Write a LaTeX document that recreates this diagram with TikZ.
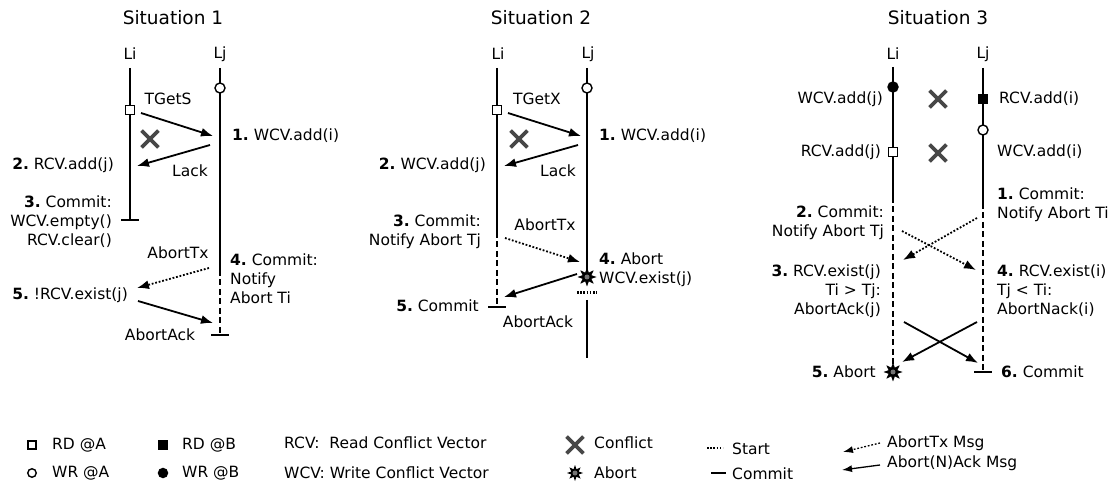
\documentclass[tikz,border=0pt]{standalone}
\usepackage{fontspec}
\setmainfont{DejaVu Sans}
\usetikzlibrary{arrows.meta, shapes.geometric, shapes.misc}
\newcommand{\stepnum}[1]{\textbf{#1.}~}
\tikzset{
    life/.style={line width=1.8pt},
    lifedash/.style={life, dash pattern=on 6pt off 3.5pt},
    msg/.style={line width=1.8pt, -{Latex[length=12pt,width=9pt]}},
    abortmsg/.style={msg, dash pattern=on 1.8pt off 1.8pt},
    tick/.style={line width=1.8pt},
    startmark/.style={line width=3pt, dash pattern=on 1.6pt off 1.6pt},
    rdA/.style={draw, fill=white, line width=1.4pt, minimum size=8.5pt, inner sep=0pt},
    rdB/.style={rdA, fill=black},
    wrA/.style={circle, draw, fill=white, line width=1.4pt, minimum size=10pt, inner sep=0pt},
    wrB/.style={wrA, fill=black},
    conflict/.style={cross out, draw=black!72, line width=3.8pt, minimum size=13pt, inner sep=0pt},
    abortmark/.style={star, star points=8, star point ratio=2, fill=black,
        minimum size=19pt, inner sep=0pt,
        path picture={\fill[black!55] (path picture bounding box.center) circle (2.5pt);}},
    lbl/.style={font=\fontsize{15.5}{19}\selectfont, inner sep=1pt},
    title/.style={font=\fontsize{18.5}{22}\selectfont},
}

\begin{document}
\begin{tikzpicture}[x=1pt, y=-1pt]

\useasboundingbox (0,0) rectangle (1120,494);

% Situacion 1
\node[title] (t1) at (173,18) {Situation 1};
\node[lbl] (li1) at (130,54) {Li};
\node[lbl] (lj1) at (220,54) {Lj};

\coordinate (li1top) at (130,68);
\coordinate (li1end) at (130,220);
\coordinate (lj1top) at (220,68);
\coordinate (lj1dash) at (220,270);
\coordinate (lj1end) at (220,335);

\draw[life] (li1top) -- (li1end);
\draw[tick] ([xshift=-9pt]li1end) -- ([xshift=9pt]li1end);
\draw[life] (lj1top) -- (lj1dash);
\draw[lifedash] (lj1dash) -- (lj1end);
\draw[tick] ([xshift=-9pt]lj1end) -- ([xshift=9pt]lj1end);

\node[rdA] (rd1) at (130,110) {};
\node[wrA] (wr1) at (220,88) {};
\node[conflict] (x1) at (150,139) {};

\coordinate (g1s) at (141,113);
\coordinate (g1e) at (213,136);
\coordinate (l1s) at (210,145);
\coordinate (l1e) at (137,166);
\coordinate (x1s) at (209,268);
\coordinate (x1e) at (137,288);
\coordinate (k1s) at (138,301);
\coordinate (k1e) at (213,323);

\draw[msg] (g1s) -- (g1e);
\draw[msg] (l1s) -- (l1e);
\draw[abortmsg] (x1s) -- (x1e);
\draw[msg] (k1s) -- (k1e);

\node[lbl] (tgets) at (168,99) {TGetS};
\node[lbl] (lack1) at (190,171) {Lack};
\node[lbl] (abtx1) at (178,253) {AbortTx};
\node[lbl] (abak1) at (160,335) {AbortAck};
\node[lbl, anchor=west] (a11) at (231,136) {\stepnum{1}WCV.add(i)};
\node[lbl, anchor=east] (a12) at (115,165) {\stepnum{2}RCV.add(j)};
\node[lbl, anchor=east, align=right] (a13) at (113,222) {\stepnum{3}Commit:\\WCV.empty()\\RCV.clear()};
\node[lbl, anchor=west, align=left] (a14) at (229,279) {\stepnum{4}Commit:\\Notify\\Abort Ti};
\node[lbl, anchor=east] (a15) at (129,295) {\stepnum{5}!RCV.exist(j)};

% Situacion 2
\node[title] (t2) at (541,18) {Situation 2};
\node[lbl] (li2) at (498,54) {Li};
\node[lbl] (lj2) at (588,54) {Lj};

\coordinate (li2top) at (497,68);
\coordinate (li2dash) at (497,232);
\coordinate (li2end) at (497,307);
\coordinate (lj2top) at (587,68);
\coordinate (lj2abort) at (587,277);
\coordinate (lj2start) at (587,293);
\coordinate (lj2new) at (587,300);
\coordinate (lj2end) at (587,358);

\draw[life] (li2top) -- (li2dash);
\draw[lifedash] (li2dash) -- (li2end);
\draw[tick] ([xshift=-9pt]li2end) -- ([xshift=9pt]li2end);
\draw[life] (lj2top) -- (lj2abort);
\draw[startmark] ([xshift=-10pt]lj2start) -- ([xshift=10pt]lj2start);
\draw[life] (lj2new) -- (lj2end);

\node[rdA] (rd2) at (497,110) {};
\node[wrA] (wr2) at (587,88) {};
\node[conflict] (x2) at (519,139) {};
\node[abortmark] (ab2) at (lj2abort) {};

\coordinate (g2s) at (508,113);
\coordinate (g2e) at (581,136);
\coordinate (l2s) at (578,145);
\coordinate (l2e) at (504,166);
\coordinate (x2s) at (505,238);
\coordinate (x2e) at (580,262);
\coordinate (k2s) at (577,274);
\coordinate (k2e) at (504,297);

\draw[msg] (g2s) -- (g2e);
\draw[msg] (l2s) -- (l2e);
\draw[abortmsg] (x2s) -- (x2e);
\draw[msg] (k2s) -- (k2e);

\node[lbl] (tgetx) at (537,99) {TGetX};
\node[lbl] (lack2) at (558,171) {Lack};
\node[lbl] (abtx2) at (545,225) {AbortTx};
\node[lbl] (abak2) at (538,322) {AbortAck};
\node[lbl, anchor=west] (a21) at (598,136) {\stepnum{1}WCV.add(i)};
\node[lbl, anchor=east] (a22) at (487,165) {\stepnum{2}WCV.add(j)};
\node[lbl, anchor=east, align=right] (a23) at (482,232) {\stepnum{3}Commit:\\Notify Abort Tj};
\node[lbl, anchor=west, align=left] (a24) at (598,270) {\stepnum{4}Abort\\WCV.exist(j)};
\node[lbl, anchor=east] (a25) at (480,306) {\stepnum{5}Commit};

% Situacion 3
\node[title] (t3) at (938,18) {Situation 3};
\node[lbl] (li3) at (893,54) {Li};
\node[lbl] (lj3) at (983,54) {Lj};

\coordinate (li3top) at (893,67);
\coordinate (li3dash) at (893,197);
\coordinate (li3end) at (893,372);
\coordinate (lj3top) at (983,68);
\coordinate (lj3dash) at (983,203);
\coordinate (lj3end) at (983,372);

\draw[life] (li3top) -- (li3dash);
\draw[lifedash] (li3dash) -- (li3end);
\draw[life] (lj3top) -- (lj3dash);
\draw[lifedash] (lj3dash) -- (lj3end);
\draw[tick] ([xshift=-9pt]lj3end) -- ([xshift=9pt]lj3end);

\node[wrB] (wr3i) at (893,87) {};
\node[rdA] (rd3i) at (893,152) {};
\node[rdB] (rd3j) at (983,99) {};
\node[wrA] (wr3j) at (983,130) {};
\node[conflict] (x3a) at (938,99) {};
\node[conflict] (x3b) at (938,153) {};
\node[abortmark] (ab3) at (li3end) {};

\coordinate (n3js) at (977,218);
\coordinate (n3je) at (903,260);
\coordinate (n3is) at (902,231);
\coordinate (n3ie) at (976,270);
\coordinate (k3is) at (977,322);
\coordinate (k3ie) at (902,362);
\coordinate (k3js) at (904,322);
\coordinate (k3je) at (978,363);

\draw[abortmsg] (n3js) -- (n3je);
\draw[abortmsg] (n3is) -- (n3ie);
\draw[msg] (k3is) -- (k3ie);
\draw[msg] (k3js) -- (k3je);

\node[lbl, anchor=east] (b1) at (884,99) {WCV.add(j)};
\node[lbl, anchor=west] (b2) at (998,99) {RCV.add(i)};
\node[lbl, anchor=east] (b3) at (882,152) {RCV.add(j)};
\node[lbl, anchor=west] (b4) at (996,152) {WCV.add(i)};
\node[lbl, anchor=west, align=left] (a31) at (996,205) {\stepnum{1}Commit:\\Notify Abort Ti};
\node[lbl, anchor=east, align=right] (a32) at (885,223) {\stepnum{2}Commit:\\Notify Abort Tj};
\node[lbl, anchor=east, align=right] (a33) at (882,291) {\stepnum{3}RCV.exist(j)\\Ti > Tj:\\AbortAck(j)};
\node[lbl, anchor=west, align=left] (a34) at (996,291) {\stepnum{4}RCV.exist(i)\\Tj < Ti:\\AbortNack(i)};
\node[lbl, anchor=east] (a35) at (877,372) {\stepnum{5}Abort};
\node[lbl, anchor=west] (a36) at (1000,372) {\stepnum{6}Commit};

% Leyenda
\node[rdA, minimum size=8pt] (kra) at (32,445) {};
\node[rdB, minimum size=8pt] (krb) at (163,445) {};
\node[wrA, minimum size=8.5pt] (kwa) at (32,473) {};
\node[wrB, minimum size=9pt] (kwb) at (163,473) {};
\node[lbl, anchor=west] (tra) at (51,445) {RD @A};
\node[lbl, anchor=west] (trb) at (181,445) {RD @B};
\node[lbl, anchor=west] (twa) at (51,473) {WR @A};
\node[lbl, anchor=west] (twb) at (181,473) {WR @B};
\node[lbl, anchor=west] (trcv) at (283,443) {RCV:~~Read Conflict Vector};
\node[lbl, anchor=west] (twcv) at (283,473) {WCV: Write Conflict Vector};

\node[conflict] (kx) at (575,445) {};
\node[abortmark, minimum size=16pt] (kab) at (575,473) {};
\node[lbl, anchor=west] (tx) at (593,443) {Conflict};
\node[lbl, anchor=west] (tab) at (593,473) {Abort};

\coordinate (kss) at (707,448);
\coordinate (kse) at (723,448);
\coordinate (kcs) at (711,473);
\coordinate (kce) at (726,473);
\draw[startmark, line width=2.5pt] (kss) -- (kse);
\draw[tick] (kcs) -- (kce);
\node[lbl, anchor=west] (tst) at (731,449) {Start};
\node[lbl, anchor=west] (tcm) at (731,474) {Commit};

\coordinate (kms) at (880,443);
\coordinate (kme) at (843,452);
\coordinate (kas) at (880,465);
\coordinate (kae) at (842,470);
\draw[abortmsg, line width=1.3pt, -{Latex[length=10pt,width=7pt]}] (kms) -- (kme);
\draw[msg, line width=1.3pt, -{Latex[length=10pt,width=7pt]}] (kas) -- (kae);
\node[lbl, anchor=west] (tmsg) at (886,443) {AbortTx Msg};
\node[lbl, anchor=west] (tack) at (886,463) {Abort(N)Ack Msg};

\end{tikzpicture}
\end{document}
